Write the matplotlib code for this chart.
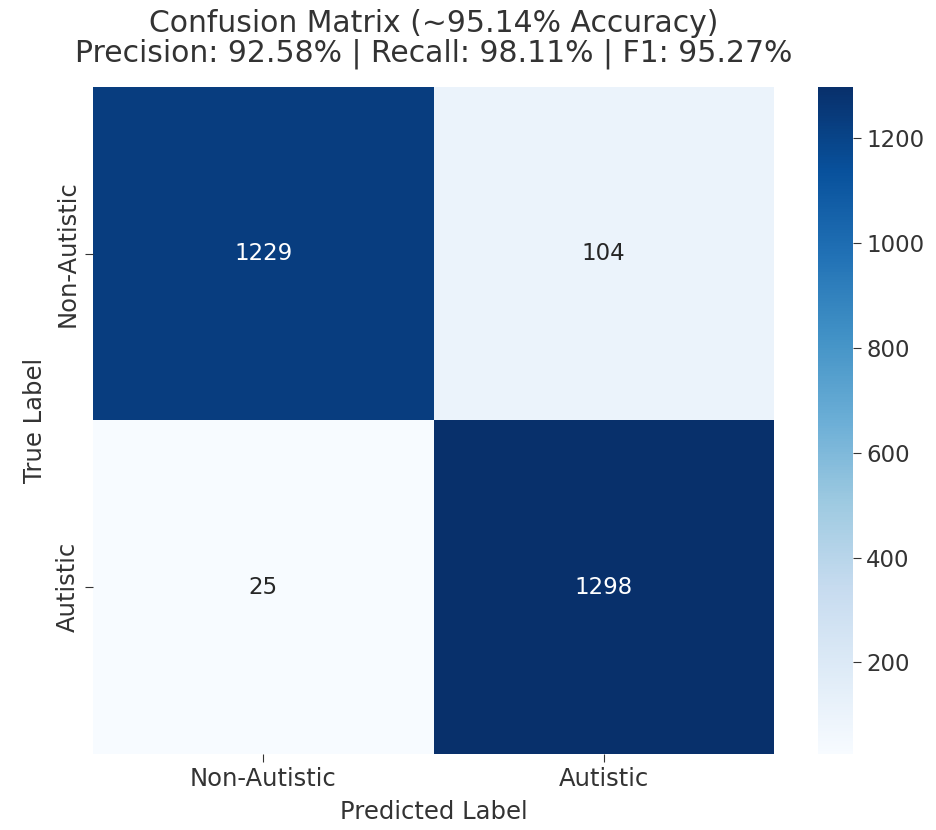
import matplotlib
matplotlib.use("Agg")
import matplotlib.pyplot as plt
import seaborn as sns
import numpy as np

labels = ["Non-Autistic", "Autistic"]
cm = np.array([[1229, 104],
               [25, 1298]])
title = "Confusion Matrix (~95.14% Accuracy)\nPrecision: 92.58% | Recall: 98.11% | F1: 95.27%"

txt = "#333333"
plt.rcParams['text.color'] = txt
plt.rcParams['axes.labelcolor'] = txt
plt.rcParams['xtick.color'] = txt
plt.rcParams['ytick.color'] = txt

fig = plt.figure(figsize=(9.36, 8.3), dpi=100)
ax = fig.add_axes([93/936, 1-754/830, (774-93)/936, (754-87)/830])
cax = fig.add_axes([818/936, 1-754/830, (853-818)/936, (754-87)/830])
sns.heatmap(cm, annot=True, fmt="d", cmap="Blues", ax=ax, cbar_ax=cax,
            xticklabels=labels, yticklabels=labels,
            annot_kws={"fontsize": 16.5})
ax.set_title(title, fontsize=21.5, pad=18, linespacing=1.05, color=txt)
ax.set_xlabel("Predicted Label", fontsize=17.5, labelpad=6)
ax.set_ylabel("True Label", fontsize=17.5, labelpad=6)
ax.tick_params(labelsize=17.5, length=6)
cax.tick_params(labelsize=16.5, length=6)
cax.set_frame_on(False)
fig.savefig("out.png", dpi=100)
